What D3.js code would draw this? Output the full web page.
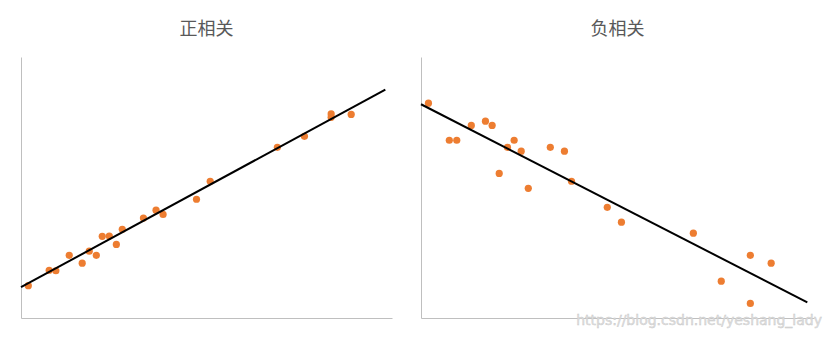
<!DOCTYPE html>
<html>
<head>
<meta charset="utf-8">
<script src="https://cdn.jsdelivr.net/npm/d3@7"></script>
<style>
  body { margin: 0; background: #fff; }
  svg { display: block; }
</style>
</head>
<body>
<svg id="chart" width="831" height="338"></svg>
<script>
// 正相关 points
const posX = [1.97, 7.6, 9.4, 13.0, 16.5, 18.4, 20.3, 21.9, 23.8, 25.7, 27.3, 33.0, 36.4, 38.3, 47.3, 51.0, 69.1, 76.4, 83.6, 83.6, 89.0];
const posY = [12.4, 18.3, 18.1, 24.0, 21.0, 25.6, 24.0, 31.3, 31.4, 28.2, 34.0, 38.3, 41.3, 39.7, 45.5, 52.4, 65.4, 69.6, 78.2, 76.9, 78.0];
const posTrendX = [0, 98.2];
const posTrendY = [11.8, 87.5];

// 负相关 points
const negX = [1.9, 7.2, 9.1, 12.8, 16.4, 18.1, 22.0, 23.7, 25.5, 19.9, 27.3, 32.9, 36.5, 38.3, 47.4, 51.0, 69.3, 83.8, 89.1, 76.4, 83.8];
const negY = [82.3, 68.1, 68.1, 73.8, 75.4, 73.8, 65.4, 68.1, 63.9, 55.4, 49.7, 65.4, 63.9, 52.4, 42.4, 36.7, 32.5, 24.0, 21.0, 14.1, 5.6];
const negTrendX = [0, 98.3];
const negTrendY = [81.9, 6.0];

const titles = ["正相关", "负相关"];

const svg = d3.select("#chart");

const panels = [
    { title: titles[0], xs: posX, ys: posY, tx: posTrendX, ty: posTrendY, left: 21, right: 392 },
    { title: titles[1], xs: negX, ys: negY, tx: negTrendX, ty: negTrendY, left: 421, right: 814 }
];

const plotTop = 57, plotBottom = 318;

panels.forEach(p => {
    const x = d3.scaleLinear().domain([0, 100]).range([p.left, p.right]);
    const y = d3.scaleLinear().domain([0, 100]).range([plotBottom, plotTop]);
    const g = svg.append("g");

    // axes, no ticks
    g.append("g")
        .attr("transform", "translate(0," + plotBottom + ")")
        .call(d3.axisBottom(x).tickValues([]).tickSizeOuter(0))
        .select(".domain").attr("stroke", "#bfbfbf");
    g.append("g")
        .attr("transform", "translate(" + p.left + ",0)")
        .call(d3.axisLeft(y).tickValues([]).tickSizeOuter(0))
        .select(".domain").attr("stroke", "#bfbfbf");

    const pts = p.xs.map((v, i) => [v, p.ys[i]]);
    g.selectAll("circle")
        .data(pts)
        .enter().append("circle")
        .attr("cx", d => x(d[0]))
        .attr("cy", d => y(d[1]))
        .attr("r", 3.6)
        .attr("fill", "#ed7d31");

    const trend = p.tx.map((v, i) => [v, p.ty[i]]);
    g.append("path")
        .datum(trend)
        .attr("fill", "none")
        .attr("stroke", "#000")
        .attr("stroke-width", 2)
        .attr("d", d3.line().x(d => x(d[0])).y(d => y(d[1])));

    g.append("text")
        .attr("x", (p.left + p.right) / 2)
        .attr("y", 35)
        .attr("text-anchor", "middle")
        .style("font-family", "'Noto Sans CJK SC', sans-serif")
        .style("font-size", "18px")
        .attr("fill", "#595959")
        .text(p.title);
});

// watermark
svg.append("text")
    .attr("x", 822)
    .attr("y", 325)
    .attr("text-anchor", "end")
    .style("font-family", "'DejaVu Sans', sans-serif")
    .style("font-size", "14px")
    .attr("fill", "#e0e0e0")
    .attr("stroke", "#c8c8c8")
    .attr("stroke-width", 0.4)
    .text("https://blog.csdn.net/yeshang_lady");
</script>
</body>
</html>
